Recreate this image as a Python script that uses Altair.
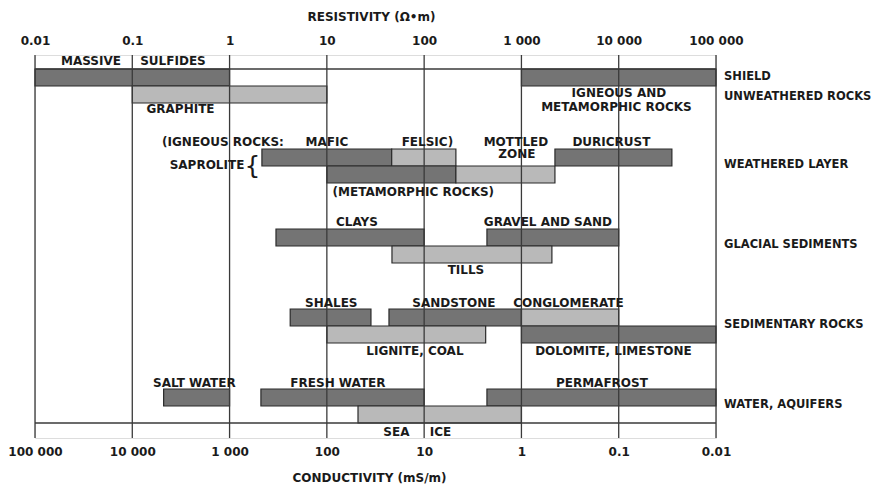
import altair as alt
import pandas as pd

# ---------------- data ----------------
decades = [0.01, 0.1, 1, 10, 100, 1000, 10000, 100000]
top_tick_labels = ["0.01", "0.1", "1", "10", "100", "1 000", "10 000", "100 000"]
bottom_tick_labels = ["100 000", "10 000", "1 000", "100", "10", "1", "0.1", "0.01"]

# resistivity ranges (ohm-m) of each bar
bar_names = ["Massive sulfides", "Shield", "Graphite",
             "Igneous mafic", "Igneous felsic", "Duricrust", "Metamorphic", "Mottled zone",
             "Clays", "Gravel and sand", "Tills",
             "Shales", "Sandstone", "Conglomerate", "Lignite, coal", "Dolomite, limestone",
             "Salt water", "Fresh water", "Permafrost", "Sea ice"]
bar_lo = [0.01, 1000, 0.1,
          2.15, 46.4, 2210, 10, 212,
          3.0, 442, 46.7,
          4.2, 43.5, 1000, 10, 1000,
          0.21, 2.1, 442, 20.9]
bar_hi = [1, 100000, 10,
          46.4, 212, 35200, 212, 2210,
          100, 10000, 2057,
          28.4, 1000, 10000, 429, 100000,
          1, 100, 100000, 1000]
bar_group = [0, 0, 0,
             1, 1, 1, 1, 1,
             2, 2, 2,
             3, 3, 3, 3, 3,
             4, 4, 4, 4]
bar_sub = [0, 0, 1,
           0, 0, 0, 1, 1,
           0, 0, 1,
           0, 0, 0, 1, 1,
           0, 0, 0, 1]
bar_tone = ["dark", "dark", "light",
            "dark", "light", "dark", "dark", "light",
            "dark", "dark", "light",
            "dark", "dark", "light", "light", "dark",
            "dark", "dark", "dark", "light"]

# annotations inside the chart
label_text = ["MASSIVE", "SULFIDES", "GRAPHITE", "IGNEOUS AND", "METAMORPHIC ROCKS",
              "(IGNEOUS ROCKS:", "MAFIC", "FELSIC)", "MOTTLED", "ZONE", "DURICRUST",
              "SAPROLITE", "(METAMORPHIC ROCKS)",
              "CLAYS", "GRAVEL AND SAND", "TILLS",
              "SHALES", "SANDSTONE", "CONGLOMERATE", "LIGNITE, COAL", "DOLOMITE, LIMESTONE",
              "SALT WATER", "FRESH WATER", "PERMAFROST", "SEA", "ICE"]
label_x = [0.0376, 0.262, 0.313, 10050, 9470,
           0.855, 10.0, 108, 878, 899, 8410,
           0.586, 77.4,
           20.4, 1872, 269,
           11.1, 202, 3040, 80.4, 8830,
           0.435, 13.0, 6720, 51.9, 147]
label_lane = [-0.1, -0.1, 0.5, 0.296, 0.471,
              0.909, 0.909, 0.909, 0.909, 1.0625, 0.909,
              1.2, 1.534,
              1.909, 1.909, 2.5125,
              2.921, 2.921, 2.921, 3.525, 3.525,
              3.921, 3.921, 3.921, 4.534, 4.534]

brace_x = [1.72]
brace_lane = [1.21]

class_text = ["SHIELD", "UNWEATHERED ROCKS", "WEATHERED LAYER", "GLACIAL SEDIMENTS",
              "SEDIMENTARY ROCKS", "WATER, AQUIFERS"]
class_lane = [0.1, 0.354, 1.2, 2.2, 3.2, 4.2]

# ---------------- layout constants ----------------
BAR_H = 0.2125          # bar thickness in lane units
W, H = 681, 383
FONT = "DejaVu Sans"
FS = 12
FS_CLASS = 11.5
TXT = "#1a1a1a"
LINE = "#3a3a3a"
DARK = "#747474"
LIGHT = "#b9b9b9"

bars = pd.DataFrame({
    "name": bar_names, "lo": bar_lo, "hi": bar_hi,
    "top": [g + s * BAR_H for g, s in zip(bar_group, bar_sub)],
    "bottom": [g + (s + 1) * BAR_H for g, s in zip(bar_group, bar_sub)],
    "tone": bar_tone,
})
labels = pd.DataFrame({"text": label_text, "x": label_x, "lane": label_lane})
classes = pd.DataFrame({"text": class_text, "lane": class_lane})
dec_df = pd.DataFrame({"v": decades})
frame_df = pd.DataFrame({"lane": [0, max(bar_group) + 2 * BAR_H],
                         "x0": [decades[0]] * 2, "x1": [decades[-1]] * 2})
brace_df = pd.DataFrame({"x": brace_x, "lane": brace_lane, "text": ["{"]})

xscale = alt.Scale(type="log", domain=[decades[0], decades[-1]], nice=False)
yscale = alt.Scale(domain=[-0.175, 4.6125], reverse=True, nice=False, zero=False)


def arr(lst):
    return "[" + ",".join("'" + s + "'" for s in lst) + "]"


idx = "round(log(datum.value)/LN10)+2"
top_axis = alt.Axis(orient="top", values=decades, labelExpr=arr(top_tick_labels) + "[" + idx + "]",
                    title="RESISTIVITY (Ω•m)", domain=False, ticks=False, grid=False,
                    labelFont=FONT, labelFontWeight="bold", labelFontSize=FS, labelColor=TXT,
                    labelPadding=8, labelFlush=False,
                    titleFont=FONT, titleFontWeight="bold", titleFontSize=FS, titleColor=TXT,
                    titlePadding=11, titleX=336)
bottom_axis = alt.Axis(orient="bottom", values=decades,
                       labelExpr=arr(bottom_tick_labels) + "[" + idx + "]",
                       title="CONDUCTIVITY (mS/m)", domain=False, ticks=False, grid=False,
                       labelFont=FONT, labelFontWeight="bold", labelFontSize=FS, labelColor=TXT,
                       labelPadding=8, labelFlush=False,
                       titleFont=FONT, titleFontWeight="bold", titleFontSize=FS, titleColor=TXT,
                       titlePadding=15, titleX=334)

bar_layer = alt.Chart(bars).mark_rect(stroke="#2a2a2a", strokeWidth=1.2).encode(
    x=alt.X("lo:Q", scale=xscale, axis=None),
    x2="hi:Q",
    y=alt.Y("top:Q", scale=yscale, axis=None),
    y2="bottom:Q",
    color=alt.Color("tone:N", scale=alt.Scale(domain=["dark", "light"], range=[DARK, LIGHT]),
                    legend=None),
)

dec_rules = alt.Chart(dec_df).mark_rule(color=LINE, strokeWidth=1.3).encode(
    x=alt.X("v:Q", scale=xscale, axis=top_axis),
)

frame_rules = alt.Chart(frame_df).mark_rule(color=LINE, strokeWidth=1.3).encode(
    x=alt.X("x0:Q", scale=xscale, axis=bottom_axis),
    x2="x1:Q",
    y=alt.Y("lane:Q", scale=yscale, axis=None),
)

text_layer = alt.Chart(labels).mark_text(font=FONT, fontWeight="bold", fontSize=FS, color=TXT,
                                         align="center", baseline="middle").encode(
    x=alt.X("x:Q", scale=xscale, axis=None),
    y=alt.Y("lane:Q", scale=yscale, axis=None),
    text="text:N",
)

brace_layer = alt.Chart(brace_df).mark_text(font=FONT, fontSize=25, color=TXT,
                                            align="center", baseline="middle").encode(
    x=alt.X("x:Q", scale=xscale, axis=None),
    y=alt.Y("lane:Q", scale=yscale, axis=None),
    text="text:N",
)

class_layer = alt.Chart(classes).mark_text(font=FONT, fontWeight="bold", fontSize=FS_CLASS,
                                           color=TXT, align="left", baseline="middle").encode(
    x=alt.value(W + 8),
    y=alt.Y("lane:Q", scale=yscale, axis=None),
    text="text:N",
)

chart = alt.layer(
    bar_layer, dec_rules, frame_rules, text_layer, brace_layer, class_layer
).resolve_axis(x="independent").properties(
    width=W, height=H,
    autosize=alt.AutoSizeParams(type="none"),
    padding={"left": 27, "top": 47, "right": 161, "bottom": 46},
).configure_view(stroke=None).configure(background="white")

chart.save("out.html", embed_options={"renderer": "svg", "actions": False})
